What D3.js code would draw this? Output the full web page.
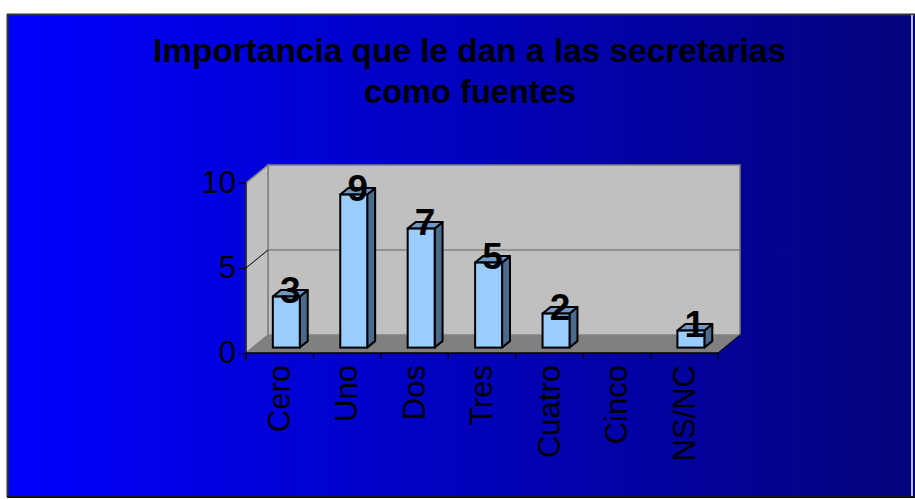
<!DOCTYPE html>
<html><head><meta charset="utf-8">
<script src="https://cdn.jsdelivr.net/npm/d3@7"></script>
<style>html,body{margin:0;padding:0;background:#fff;}svg{display:block;}</style>
</head><body>
<script>
const categories = ["Cero","Uno","Dos","Tres","Cuatro","Cinco","NS/NC"];
const values = [3,9,7,5,2,0,1];
const yTicks = [0,5,10];
const titleLines = ["Importancia que le dan a las secretarias","como fuentes"];

const W = 915, H = 499;
const svg = d3.select("body").append("svg").attr("width", W).attr("height", H);
const defs = svg.append("defs");
const grad = defs.append("linearGradient").attr("id","bg").attr("x1","0%").attr("x2","100%").attr("y1","0%").attr("y2","0%");
grad.append("stop").attr("offset","0%").attr("stop-color","#0000FF");
grad.append("stop").attr("offset","100%").attr("stop-color","#03037A");

// background
svg.append("rect").attr("x",7).attr("y",14).attr("width",W-7).attr("height",483).attr("fill","url(#bg)");
svg.append("line").attr("x1",7).attr("x2",W).attr("y1",14.5).attr("y2",14.5).attr("stroke","#333").attr("stroke-width",2);
svg.append("line").attr("x1",7.5).attr("x2",7.5).attr("y1",14).attr("y2",497).attr("stroke","#333").attr("stroke-width",2);
svg.append("line").attr("x1",7).attr("x2",W).attr("y1",497).attr("y2",497).attr("stroke","#111").attr("stroke-width",2);
svg.append("line").attr("x1",912).attr("x2",912).attr("y1",15).attr("y2",496).attr("stroke","#fff").attr("stroke-width",1.5);

// title
const ft = svg.append("g").attr("font-family","'Liberation Sans', Arial, sans-serif").attr("font-weight","bold").attr("font-size",33).attr("fill","#000");
ft.append("text").attr("x",153).attr("y",62).attr("textLength",633).attr("lengthAdjust","spacingAndGlyphs").text(titleLines[0]);
ft.append("text").attr("x",364).attr("y",103).attr("textLength",212).attr("lengthAdjust","spacingAndGlyphs").text(titleLines[1]);

// scales
const x = d3.scaleBand().domain(categories).range([246,718]).padding(0);
const y = d3.scaleLinear().domain([0,10]).range([353,183]);
const DX = 22, DY = -18; // full depth offset

const g = svg.append("g");
// back wall
g.append("polygon").attr("points",[[246+DX,y(0)+DY],[718+DX,y(0)+DY],[718+DX,y(10)+DY],[246+DX,y(10)+DY]].join(" "))
  .attr("fill","#C0C0C0").attr("stroke","#808080").attr("stroke-width",1.5);
// side wall
g.append("polygon").attr("points",[[246,y(0)],[246+DX,y(0)+DY],[246+DX,y(10)+DY],[246,y(10)]].join(" "))
  .attr("fill","#C0C0C0").attr("stroke","#808080").attr("stroke-width",1.5);
// gridlines
yTicks.filter(t=>t>0 && t<10).forEach(t=>{
  g.append("line").attr("x1",246+DX).attr("x2",718+DX).attr("y1",y(t)+DY).attr("y2",y(t)+DY).attr("stroke","#808080").attr("stroke-width",1.5);
  g.append("line").attr("x1",246).attr("x2",246+DX).attr("y1",y(t)).attr("y2",y(t)+DY).attr("stroke","#000").attr("stroke-width",1);
});
// floor
g.append("polygon").attr("points",[[246,y(0)],[718,y(0)],[718+DX,y(0)+DY],[246+DX,y(0)+DY]].join(" "))
  .attr("fill","#808080");
g.append("line").attr("x1",718).attr("y1",y(0)).attr("x2",718+DX+1).attr("y2",y(0)+DY-1).attr("stroke","#000").attr("stroke-width",1);

// bars
const f0 = 0.3, fd = 0.36;
const ox = DX*f0, oy = DY*f0, bx = DX*fd, by = DY*fd;
const bw = x.bandwidth()*0.4;
const bars = g.selectAll("g.bar").data(categories.map((c,i)=>({c, v: values[i]})).filter(d=>d.v>0)).join("g").attr("class","bar");
bars.each(function(d){
  const sel = d3.select(this);
  const x0 = x(d.c) + (x.bandwidth()-bw)/2 + ox;
  const x1 = x0 + bw;
  const yb = y(0) + oy, yt = y(d.v) + oy;
  sel.append("polygon").attr("points",[[x1,yb],[x1+bx,yb+by],[x1+bx,yt+by],[x1,yt]].join(" "))
    .attr("fill","#4C6A8C").attr("stroke","#000").attr("stroke-width",2).attr("stroke-linejoin","round");
  sel.append("polygon").attr("points",[[x0,yt],[x1,yt],[x1+bx,yt+by],[x0+bx,yt+by]].join(" "))
    .attr("fill","#7099C4").attr("stroke","#000").attr("stroke-width",2).attr("stroke-linejoin","round");
  sel.append("rect").attr("x",x0).attr("y",yt).attr("width",bw).attr("height",yb-yt)
    .attr("fill","#99CCFF").attr("stroke","#000").attr("stroke-width",2);
  sel.append("text").attr("x",x0+bw/2+bx/2).attr("y",yt-6).attr("text-anchor","middle").attr("dominant-baseline","central")
    .attr("font-family","'Liberation Sans', Arial, sans-serif").attr("font-weight","bold").attr("font-size",37).attr("fill","#000").text(d.v);
});

// y axis
const yAxis = svg.append("g").attr("transform","translate(246,0)")
  .call(d3.axisLeft(y).tickValues(yTicks).tickSize(7).tickPadding(3).tickFormat(d3.format("d")));
yAxis.select(".domain").attr("stroke","#000").attr("stroke-width",1.2).attr("d","M-7,"+y(10)+"H0V"+(y(0)+8));
yAxis.selectAll(".tick line").attr("stroke","#000").attr("stroke-width",1.2);
yAxis.selectAll(".tick text").attr("font-family","'Liberation Sans', Arial, sans-serif").attr("font-size",31).attr("fill","#000");

// x axis
const xg = svg.append("g");
xg.append("line").attr("x1",246).attr("x2",718).attr("y1",y(0)).attr("y2",y(0)).attr("stroke","#000").attr("stroke-width",1.5);
categories.concat([null]).forEach((c,i)=>{
  const xx = c ? x(c) : x.range()[1];
  xg.append("line").attr("x1",xx).attr("x2",xx).attr("y1",y(0)).attr("y2",y(0)+6).attr("stroke","#000").attr("stroke-width",1.2);
});
xg.selectAll("text.cat").data(categories).join("text").attr("class","cat")
  .attr("transform",d=>`translate(${x(d)+x.bandwidth()/2},365) rotate(-90)`)
  .attr("text-anchor","end").attr("dy","0.33em")
  .attr("font-family","'Liberation Sans', Arial, sans-serif").attr("font-size",31).attr("fill","#000").text(d=>d);
</script>
</body></html>
